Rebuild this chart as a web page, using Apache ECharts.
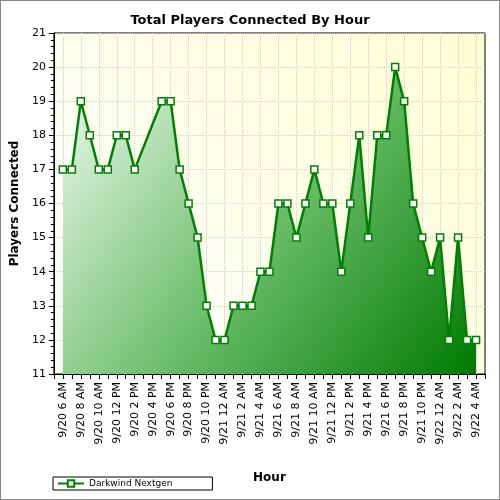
<!DOCTYPE html>
<html><head><meta charset="utf-8">
<script src="https://cdn.jsdelivr.net/npm/echarts@6/dist/echarts.min.js"></script>
<style>html,body{margin:0;padding:0;background:#fff}#c{width:500px;height:500px;box-sizing:border-box;border:1px solid #888}</style>
</head><body><div id="c"></div>
<script>
const categories = [''];
(function(){
  const days=['9/20','9/21','9/22'];
  for(let i=0;i<48;i++){
    const h=(6+i)%24, d=days[Math.floor((6+i)/24)];
    const hh=h%12===0?12:h%12, ap=h<12?'AM':'PM';
    categories.push(d+' '+hh+' '+ap);
  }
})();
const values = [null,17,17,19,18,17,17,18,18,17,null,null,19,19,17,16,15,13,12,12,13,13,13,14,14,16,16,15,16,17,16,16,14,16,18,15,18,18,20,19,16,15,14,15,12,15,12,12,null];
const seriesName = 'Darkwind Nextgen';
const chart = echarts.init(document.getElementById('c'));
chart.setOption({
  animation:false,
  title:{text:'Total Players Connected By Hour',left:'center',top:8,textStyle:{fontFamily:'DejaVu Sans',fontSize:13,fontWeight:'bold',color:'#000'}},
  grid:{left:48,right:14,top:32,bottom:125,show:true,borderColor:'#000',borderWidth:1,
    backgroundColor:{type:'linear',x:0,y:1,x2:1,y2:0,colorStops:[{offset:0,color:'#ffffff'},{offset:1,color:'#ffffd4'}]}},
  legend:{left:52,top:476,itemWidth:26,itemHeight:8,borderColor:'#000',borderWidth:1,padding:[2,40,2,4],
    textStyle:{fontFamily:'DejaVu Sans',fontSize:9,color:'#000'}},
  xAxis:{type:'category',data:categories,boundaryGap:false,name:'Hour',nameLocation:'middle',nameGap:98,
    nameTextStyle:{fontFamily:'DejaVu Sans',fontWeight:'bold',fontSize:12,color:'#000'},
    axisLine:{lineStyle:{color:'#000'}},axisTick:{interval:0,length:5,lineStyle:{color:'#000'}},
    axisLabel:{interval:(i)=>i%2===1,rotate:90,fontFamily:'DejaVu Sans',fontSize:11,color:'#000'},
    splitLine:{show:true,interval:(i)=>i%2===1,lineStyle:{type:'dotted',color:'#cfcfcf'}}},
  yAxis:{type:'value',min:11,max:21,interval:1,name:'Players Connected',nameLocation:'middle',nameGap:30,
    nameTextStyle:{fontFamily:'DejaVu Sans',fontWeight:'bold',fontSize:12,color:'#000'},
    axisLine:{show:true,lineStyle:{color:'#000'}},axisTick:{show:true,inside:false,length:5,lineStyle:{color:'#000'}},
    minorTick:{show:true,splitNumber:5,length:3,lineStyle:{color:'#000'}},
    axisLabel:{fontFamily:'DejaVu Sans',fontSize:11,color:'#000'},
    splitLine:{show:true,lineStyle:{type:'dotted',color:'#cfcfcf'}}},
  series:[{name:seriesName,type:'line',data:values,connectNulls:true,showAllSymbol:true,symbol:'rect',symbolSize:7,
    itemStyle:{color:'#fff',borderColor:'#008000',borderWidth:1.5},
    lineStyle:{color:'#008000',width:2.5},
    areaStyle:{opacity:1,origin:'start',color:{type:'linear',x:0,y:0,x2:1,y2:1,colorStops:[{offset:0,color:'#f2faf2'},{offset:0.5,color:'#6cbf6c'},{offset:1,color:'#007a00'}]}}}]
});
</script></body></html>
